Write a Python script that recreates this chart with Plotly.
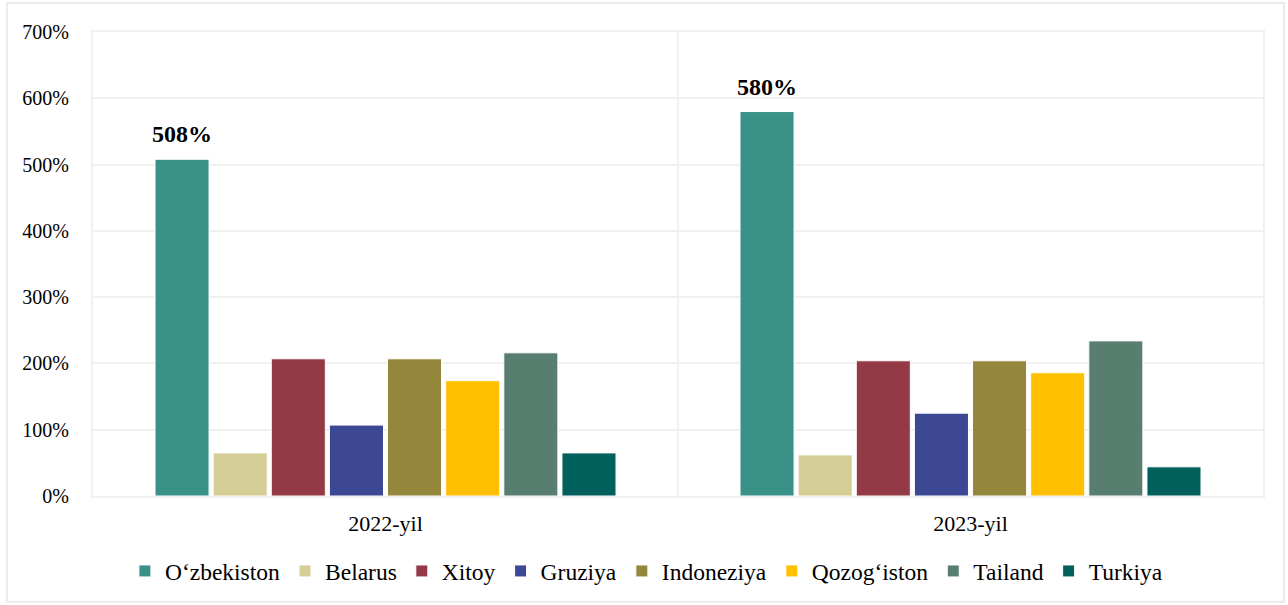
import plotly.graph_objects as go

years = ["2022-yil", "2023-yil"]
countries = ["O‘zbekiston", "Belarus", "Xitoy", "Gruziya", "Indoneziya",
             "Qozog‘iston", "Tailand", "Turkiya"]
colors = ["#3A9188", "#D5CE96", "#943A46", "#3C4894", "#94873C",
          "#FFC000", "#587E70", "#02605C"]

uzbekiston = [508, 580]
belarus = [65, 62]
xitoy = [207, 204]
gruziya = [107, 125]
indoneziya = [207, 204]
qozogiston = [174, 186]
tailand = [216, 234]
turkiya = [65, 44]

series = [uzbekiston, belarus, xitoy, gruziya, indoneziya,
          qozogiston, tailand, turkiya]

FONT = "Liberation Serif, Times New Roman, serif"

W, H = 1288, 605
M = dict(l=93, r=25, t=32, b=109)
BARGAP = 0.205
GROUPGAP = 0.07

fig = go.Figure()
for name, vals, col in zip(countries, series, colors):
    fig.add_trace(go.Bar(
        x=years, y=vals, name=name,
        marker=dict(color=col, line=dict(color="white", width=1)),
    ))

# value labels above the first series, centred on its bars
plot_w = W - M["l"] - M["r"]
cat_w = plot_w / len(years)
group_w = cat_w * (1 - BARGAP)
slot_w = group_w / len(series)
first_center = -group_w / 2 + slot_w / 2
for yr, v in zip(years, uzbekiston):
    fig.add_annotation(
        x=yr, y=v, xref="x", yref="y", text=f"<b>{v}%</b>",
        showarrow=False, xshift=first_center, yanchor="bottom", yshift=10,
        font=dict(family=FONT, size=24, color="black"),
    )

fig.update_layout(
    width=W, height=H,
    margin=M,
    paper_bgcolor="white", plot_bgcolor="white",
    barmode="group", bargap=BARGAP, bargroupgap=GROUPGAP,
    font=dict(family=FONT, size=20, color="black"),
    showlegend=True,
    legend=dict(orientation="h", x=0.473, xanchor="center",
                y=-0.162, yanchor="middle",
                font=dict(family=FONT, size=23.5, color="black"),
                itemwidth=30, traceorder="normal"),
    xaxis=dict(showgrid=False, showline=True, linecolor="#F0F0F0",
               linewidth=2, mirror=True, ticks="", ticklabelstandoff=7,
               tickfont=dict(family=FONT, size=22)),
    yaxis=dict(range=[0, 700], dtick=100, ticksuffix="%",
               showgrid=True, gridcolor="#F0F0F0", gridwidth=2,
               showline=True, linecolor="#F0F0F0", linewidth=2, mirror=True,
               zeroline=False, ticks="", ticklabelstandoff=18,
               tickfont=dict(family=FONT, size=20)),
    shapes=[
        # divider between year groups
        dict(type="line", xref="paper", yref="paper", x0=0.5, x1=0.5,
             y0=0, y1=1, line=dict(color="#F0F0F0", width=2)),
        # outer frame
        dict(type="rect", xref="paper", yref="paper",
             x0=-0.0735, x1=1.018, y0=-0.228, y1=1.0625,
             line=dict(color="#EBEBEB", width=2), layer="below"),
    ],
)

fig.write_html("out.html")
